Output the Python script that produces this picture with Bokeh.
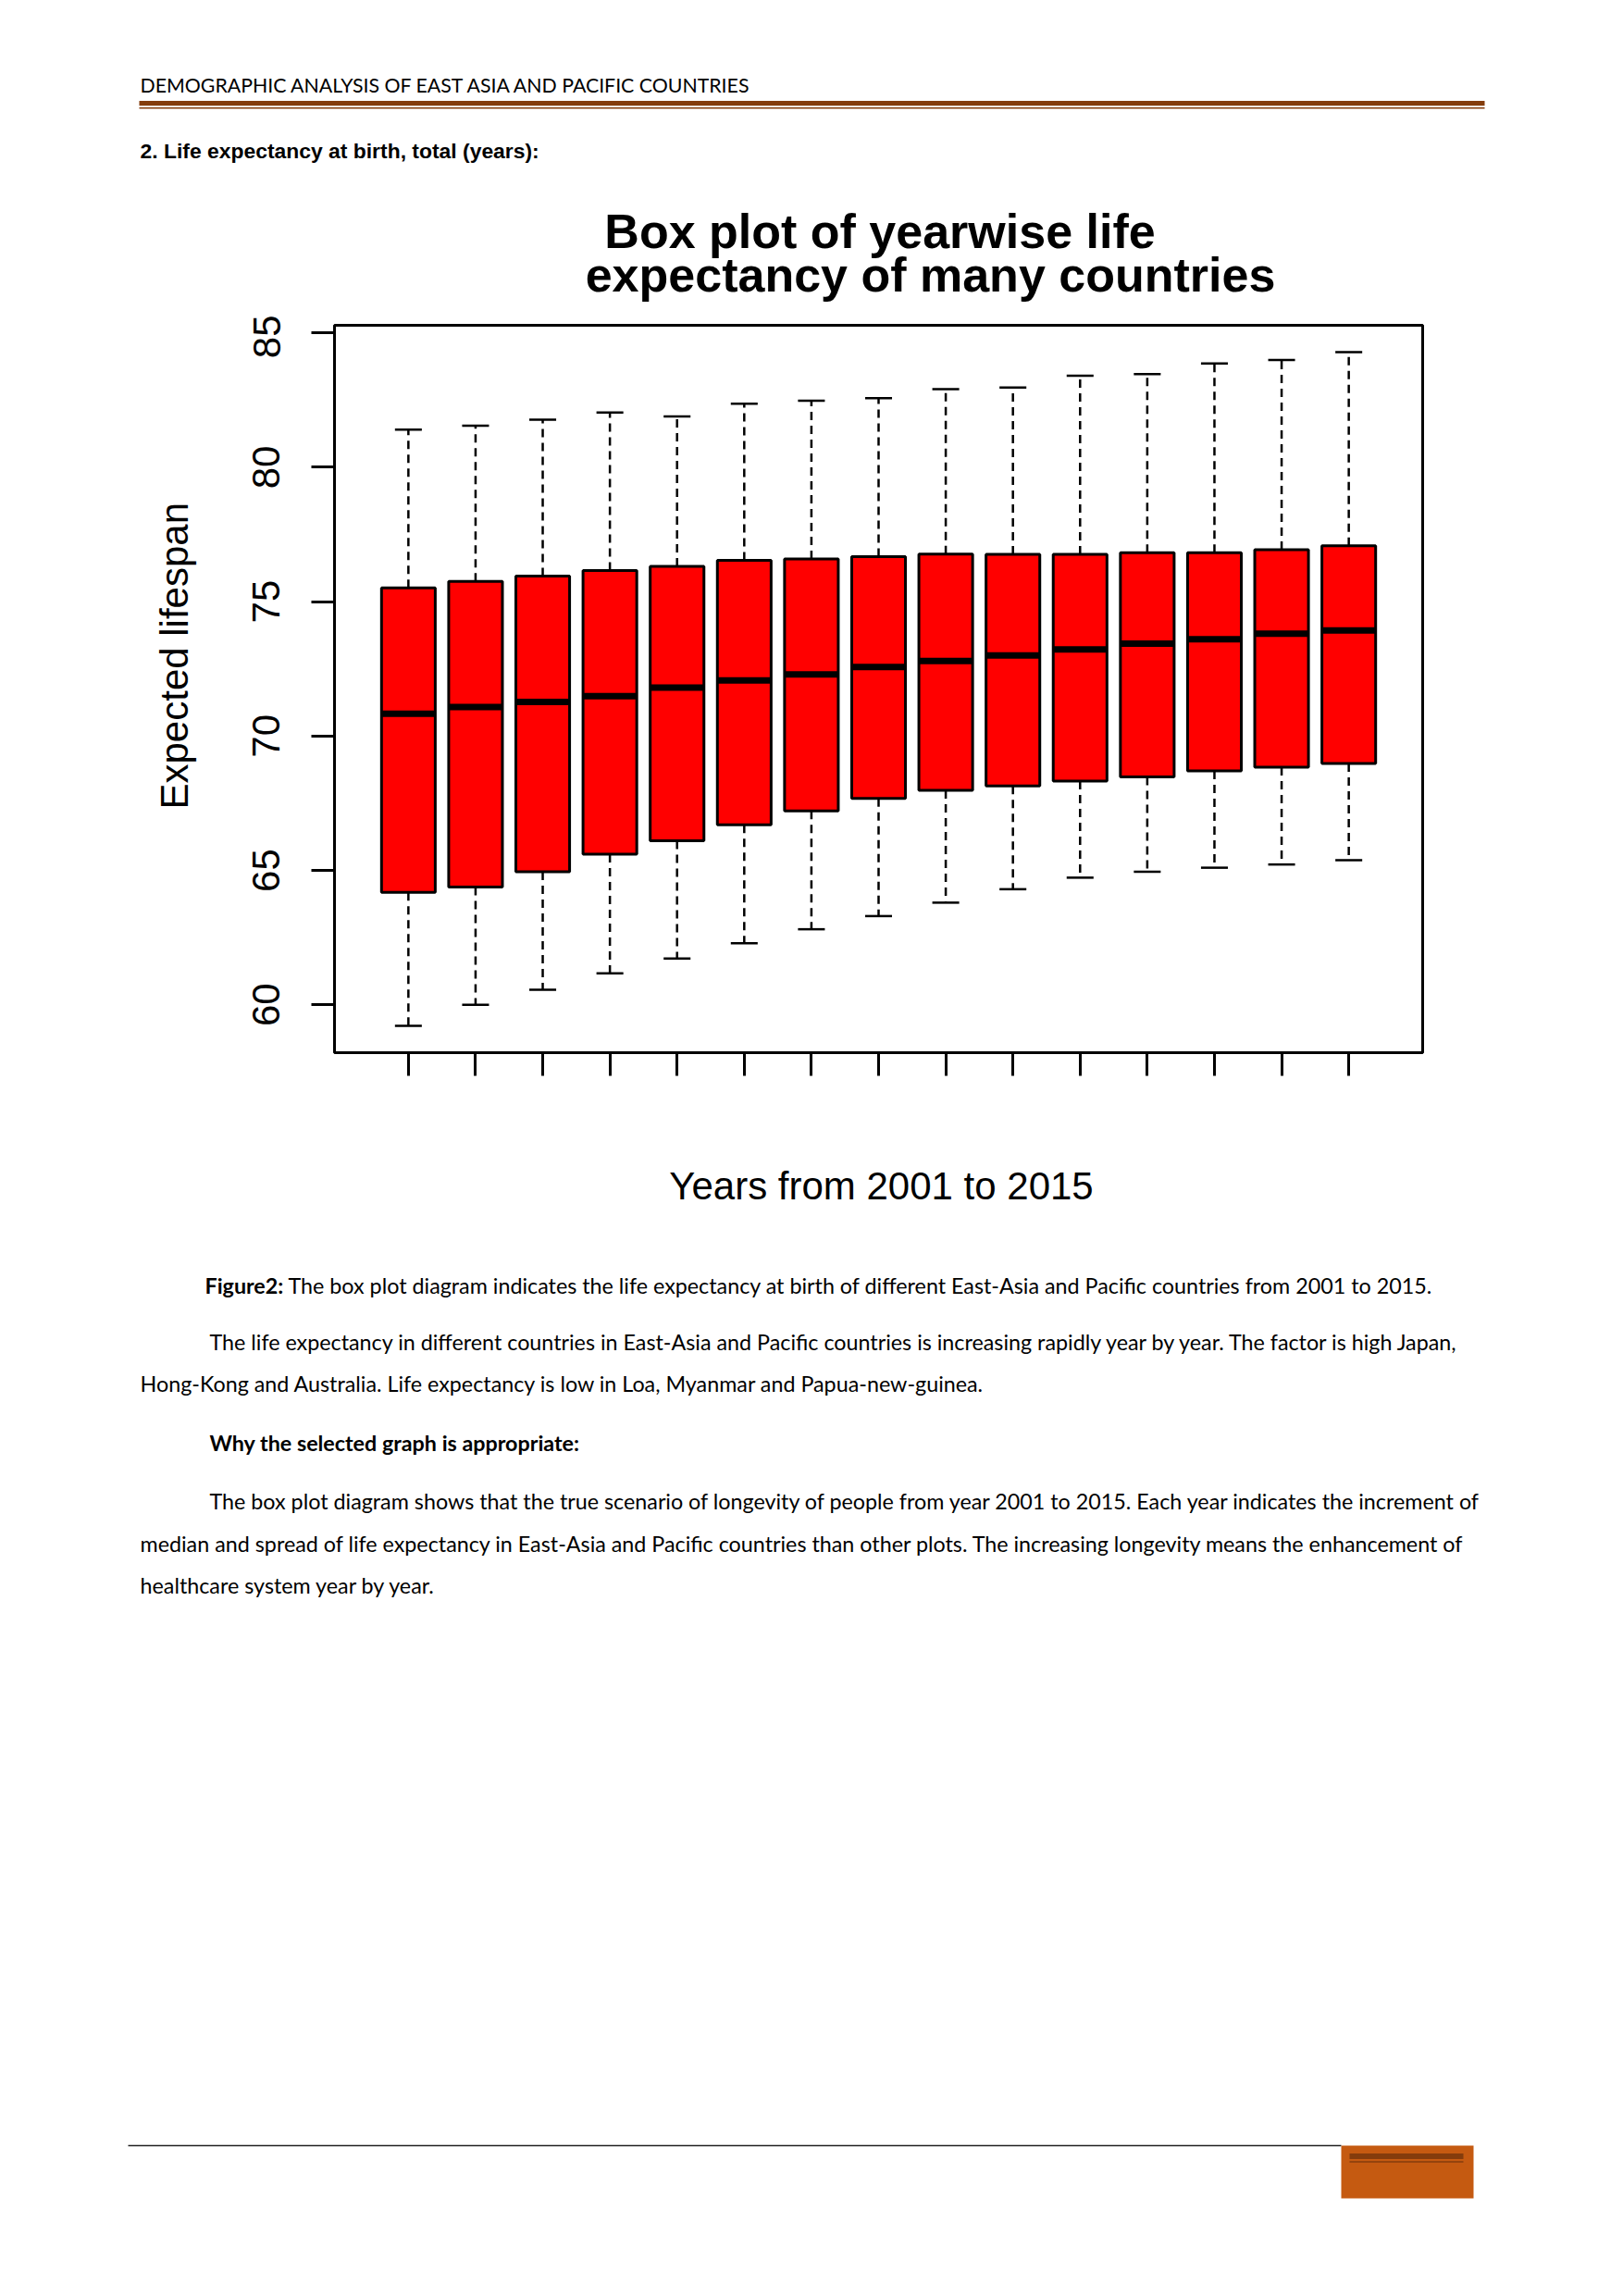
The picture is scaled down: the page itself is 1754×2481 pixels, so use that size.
import math
from bokeh.plotting import figure
from bokeh.models import Range1d, FixedTicker, Title
from bokeh.layouts import column
from bokeh.core.properties import value
from bokeh.embed import file_html
from bokeh.resources import INLINE

# ---------------- data ----------------
years = [2001, 2002, 2003, 2004, 2005, 2006, 2007, 2008, 2009, 2010, 2011, 2012, 2013, 2014, 2015]
whisker_low = [59.22, 60.00, 60.56, 61.17, 61.72, 62.29, 62.81, 63.30, 63.80, 64.30, 64.73, 64.95, 65.10, 65.22, 65.38]
q1 = [64.18, 64.38, 64.95, 65.60, 66.10, 66.70, 67.21, 67.68, 67.98, 68.14, 68.32, 68.48, 68.70, 68.84, 68.98]
median = [70.83, 71.08, 71.27, 71.48, 71.80, 72.07, 72.29, 72.57, 72.79, 73.00, 73.22, 73.44, 73.60, 73.81, 73.93]
q3 = [75.51, 75.75, 75.95, 76.16, 76.31, 76.54, 76.59, 76.67, 76.77, 76.76, 76.76, 76.82, 76.82, 76.93, 77.08]
whisker_high = [81.40, 81.55, 81.77, 82.04, 81.89, 82.36, 82.48, 82.57, 82.91, 82.97, 83.41, 83.47, 83.86, 83.99, 84.28]
y_ticks = [60, 65, 70, 75, 80, 85]

title_line1 = "Box plot of yearwise life"
title_line2 = "expectancy of many countries"
x_title = "Years from 2001 to 2015"
y_title = "Expected lifespan"

header_text = "DEMOGRAPHIC ANALYSIS OF EAST ASIA AND PACIFIC COUNTRIES"
section_text = "2. Life expectancy at birth, total (years):"
caption_bold = "Figure2:"
caption_rest = "The box plot diagram indicates the life expectancy at birth of different East-Asia and Pacific countries from 2001 to 2015."
para1 = ["The life expectancy in different countries in East-Asia and Pacific countries is increasing rapidly year by year. The factor is high Japan,",
         "Hong-Kong and Australia. Life expectancy is low in Loa, Myanmar and Papua-new-guinea."]
why_text = "Why the selected graph is appropriate:"
para2 = ["The box plot diagram shows that the true scenario of longevity of people from year 2001 to 2015. Each year indicates the increment of",
         "median and spread of life expectancy in East-Asia and Pacific countries than other plots. The increasing longevity means the enhancement of",
         "healthcare system year by year."]

# ---------------- page geometry ----------------
PAGE_W = 1754
A_H = 340            # header block height
FR_L, FR_R, FR_T, FR_B = 361, 1537, 351, 1137
B_H = 860
C_TOP = A_H + B_H
C_H = 2481 - C_TOP

BROWN = "#843C0C"
ORANGE = "#C55A11"
BODY = value("Lato")
ARIAL = value("Liberation Sans")
BODY_SIZE = "23.3px"


def blank(h, top):
    p = figure(width=PAGE_W, height=h, x_range=Range1d(0, PAGE_W), y_range=Range1d(top + h, top),
               x_axis_type=None, y_axis_type=None, output_backend="svg", toolbar_location=None,
               min_border=0, background_fill_color="white", border_fill_color="white")
    p.outline_line_color = None
    p.grid.visible = False
    p.frame_align = False
    return p

# ---------------- header block ----------------
pa = blank(A_H, 0)
pa.text(x=[151], y=[91], text=[header_text], text_font=BODY, text_font_size="21.3px",
        text_color="black", text_align="left", text_baseline="alphabetic")
pa.segment(x0=[150], y0=[111.2], x1=[1604], y1=[111.2], line_width=5.3, line_color=BROWN)
pa.segment(x0=[150], y0=[116.3], x1=[1604], y1=[116.3], line_width=1.6, line_color=BROWN)
pa.text(x=[151], y=[162], text=[section_text], text_font=ARIAL, text_font_size="22.9px",
        text_font_style="bold", text_color="black", text_align="left", text_baseline="alphabetic")
pa.text(x=[950.5], y=[249], text=[title_line1], text_font=ARIAL, text_font_size="52px",
        text_font_style="bold", text_color="black", text_align="center", text_baseline="alphabetic")
pa.text(x=[1005], y=[296], text=[title_line2], text_font=ARIAL, text_font_size="52px",
        text_font_style="bold", text_color="black", text_align="center", text_baseline="alphabetic")

# ---------------- chart ----------------
span = max(whisker_high) - min(whisker_low)
y_lo = min(whisker_low) - 0.04 * span
y_hi = max(whisker_high) + 0.04 * span
n = len(years)
x_lo = years[0] - 0.5 - 0.04 * n
x_hi = years[-1] + 0.5 + 0.04 * n

pb = figure(frame_width=FR_R - FR_L, frame_height=FR_B - FR_T,
            min_border_left=FR_L, min_border_right=PAGE_W - FR_R,
            min_border_top=FR_T - A_H, min_border_bottom=A_H + B_H - FR_B,
            x_range=Range1d(x_lo, x_hi), y_range=Range1d(y_lo, y_hi),
            output_backend="svg", toolbar_location=None,
            background_fill_color="white", border_fill_color="white")
pb.frame_align = False
pb.grid.visible = False
pb.outline_line_color = "black"
pb.outline_line_width = 3

pb.xaxis.ticker = FixedTicker(ticks=years)
pb.xaxis.major_label_text_font_size = "0px"
pb.xaxis.major_label_text_color = None
pb.xaxis.major_tick_out = 25
pb.xaxis.major_tick_in = 0
pb.xaxis.major_tick_line_width = 3
pb.xaxis.major_tick_line_color = "black"
pb.xaxis.minor_tick_line_color = None
pb.xaxis.axis_line_color = None

pb.yaxis.ticker = FixedTicker(ticks=y_ticks)
pb.yaxis.major_label_orientation = "vertical"
pb.yaxis.major_label_text_font = "Liberation Sans"
pb.yaxis.major_label_text_font_size = "42px"
pb.yaxis.major_label_text_color = "black"
pb.yaxis.major_label_standoff = 34
pb.yaxis.major_tick_out = 25
pb.yaxis.major_tick_in = 0
pb.yaxis.major_tick_line_width = 3
pb.yaxis.major_tick_line_color = "black"
pb.yaxis.minor_tick_line_color = None
pb.yaxis.axis_line_color = None

ytitle = Title(text=y_title, align="left", offset=263, standoff=118,
               text_font="Liberation Sans", text_font_size="42px",
               text_font_style="normal", text_color="black")
pb.add_layout(ytitle, "left")

box_w = 0.8
cap_w = box_w / 2
x_left = [y - box_w / 2 for y in years]
x_right = [y + box_w / 2 for y in years]
c_left = [y - cap_w / 2 for y in years]
c_right = [y + cap_w / 2 for y in years]

pb.segment(x0=years, y0=q3, x1=years, y1=whisker_high, line_width=2.5, line_color="black", line_dash="9 6")
pb.segment(x0=years, y0=q1, x1=years, y1=whisker_low, line_width=2.5, line_color="black", line_dash="9 6")
pb.segment(x0=c_left, y0=whisker_high, x1=c_right, y1=whisker_high, line_width=2.5, line_color="black")
pb.segment(x0=c_left, y0=whisker_low, x1=c_right, y1=whisker_low, line_width=2.5, line_color="black")
pb.vbar(x=years, width=box_w, top=q3, bottom=q1, fill_color="#FF0000", line_color="black", line_width=3)
pb.segment(x0=x_left, y0=median, x1=x_right, y1=median, line_width=7, line_color="black", line_cap="butt")

# ---------------- lower block ----------------
pc = blank(C_H, C_TOP)
pc.text(x=[952], y=[1281], text=[x_title], text_font=ARIAL, text_font_size="42px",
        text_color="black", text_align="center", text_baseline="alphabetic")
pc.text(x=[221], y=[1388], text=[caption_bold], text_font=BODY, text_font_size=BODY_SIZE,
        text_font_style="bold", text_color="black", text_align="left", text_baseline="alphabetic")
pc.text(x=[311], y=[1388], text=[caption_rest], text_font=BODY, text_font_size=BODY_SIZE,
        text_color="black", text_align="left", text_baseline="alphabetic")
pc.text(x=[226, 151], y=[1449, 1494], text=para1, text_font=BODY, text_font_size=BODY_SIZE,
        text_color="black", text_align="left", text_baseline="alphabetic")
pc.text(x=[226], y=[1558], text=[why_text], text_font=BODY, text_font_size=BODY_SIZE,
        text_font_style="bold", text_color="black", text_align="left", text_baseline="alphabetic")
pc.text(x=[226, 151, 151], y=[1621, 1667, 1712], text=para2, text_font=BODY, text_font_size=BODY_SIZE,
        text_color="black", text_align="left", text_baseline="alphabetic")

# footer
pc.segment(x0=[138], y0=[2318], x1=[1449], y1=[2318], line_width=1.5, line_color="#222222")
pc.quad(left=[1449], right=[1592], top=[2318], bottom=[2375], fill_color=ORANGE, line_color=None)
pc.segment(x0=[1458], y0=[2329.5], x1=[1581], y1=[2329.5], line_width=6, line_color=BROWN)
pc.segment(x0=[1458], y0=[2335.5], x1=[1581], y1=[2335.5], line_width=1.5, line_color=BROWN)

page = column(pa, pb, pc, spacing=0)
open("out.html", "w").write(file_html(page, INLINE))
